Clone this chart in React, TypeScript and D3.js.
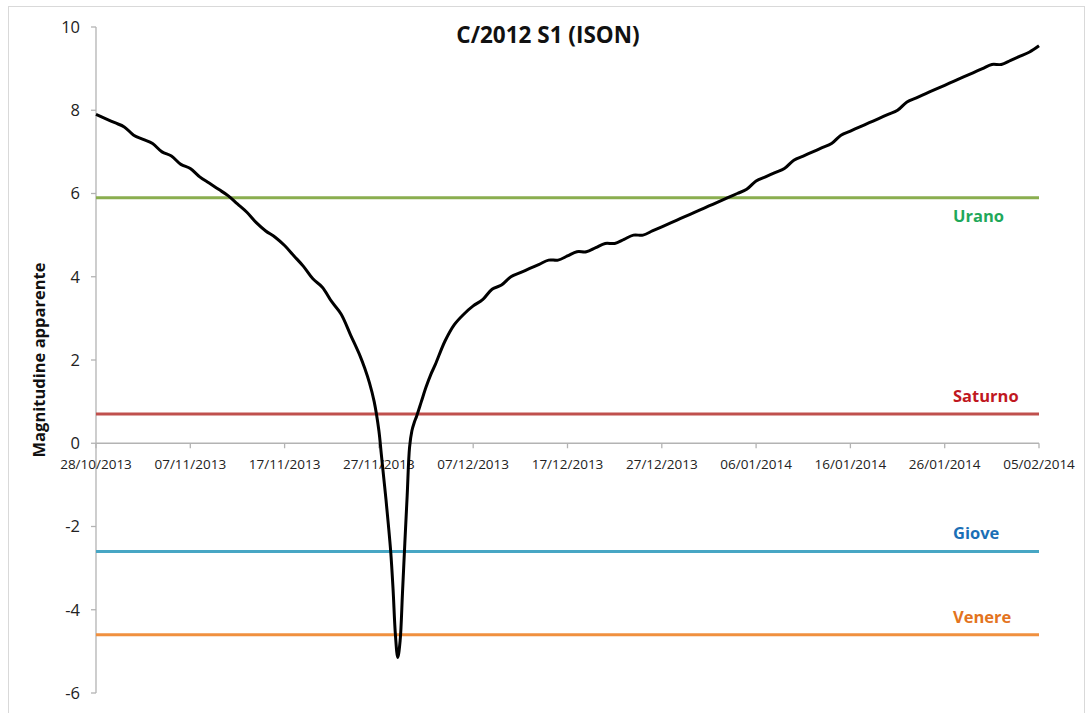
import React from "react";
import * as d3 from "d3";

// ---- Data ----
const startDate = "2013-10-28";
// offsets in days from startDate (finer sampling around perihelion)
const dayOffsets = [
  0, 1, 2, 3, 4, 5, 6, 7, 8, 9, 10, 11, 12, 13, 14, 15, 16, 17, 18, 19, 20,
  21, 22, 23, 24, 25, 26, 27, 28, 28.5, 29, 29.5, 30, 30.25, 30.5, 30.75, 31,
  31.25, 31.5, 31.75, 32, 32.25, 32.5, 32.75, 33, 33.25, 33.5, 33.75, 34, 34.5,
  35, 35.5, 36, 37, 38, 39, 40, 41, 42, 43, 44, 45, 46, 47, 48, 49, 50, 51, 52,
  53, 54, 55, 56, 57, 58, 59, 60, 61, 62, 63, 64, 65, 66, 67, 68, 69, 70, 71,
  72, 73, 74, 75, 76, 77, 78, 79, 80, 81, 82, 83, 84, 85, 86, 87, 88, 89, 90,
  91, 92, 93, 94, 95, 96, 97, 98, 99, 100,
];
const magnitudes = [
  7.9, 7.8, 7.7, 7.6, 7.4, 7.3, 7.2, 7.0, 6.9, 6.7, 6.6, 6.4, 6.25, 6.1, 5.95,
  5.75, 5.55, 5.3, 5.1, 4.95, 4.75, 4.5, 4.25, 3.95, 3.75, 3.4, 3.1, 2.6, 2.1,
  1.8, 1.45, 1.0, 0.3, -0.25, -0.8, -1.35, -1.95, -2.6, -3.5, -4.6, -5.15,
  -4.75, -3.6, -2.4, -1.25, -0.1, 0.3, 0.5, 0.65, 1.0, 1.35, 1.65, 1.9, 2.45,
  2.85, 3.1, 3.3, 3.45, 3.7, 3.8, 4.0, 4.1, 4.2, 4.3, 4.4, 4.4, 4.5, 4.6, 4.6,
  4.7, 4.8, 4.8, 4.9, 5.0, 5.0, 5.1, 5.2, 5.3, 5.4, 5.5, 5.6, 5.7, 5.8, 5.9,
  6.0, 6.1, 6.3, 6.4, 6.5, 6.6, 6.8, 6.9, 7.0, 7.1, 7.2, 7.4, 7.5, 7.6, 7.7,
  7.8, 7.9, 8.0, 8.2, 8.3, 8.4, 8.5, 8.6, 8.7, 8.8, 8.9, 9.0, 9.1, 9.1, 9.2,
  9.3, 9.4, 9.55,
];
const xTickLabels = [
  "28/10/2013", "07/11/2013", "17/11/2013", "27/11/2013", "07/12/2013",
  "17/12/2013", "27/12/2013", "06/01/2014", "16/01/2014", "26/01/2014",
  "05/02/2014",
];
const yTicks = [-6, -4, -2, 0, 2, 4, 6, 8, 10];
const planetNames = ["Urano", "Saturno", "Giove", "Venere"];
const planetMagnitudes = [5.9, 0.7, -2.6, -4.6];
const planetLineColors = ["#8aae4f", "#c0504d", "#47a6c4", "#f0903f"];
const planetTextColors = ["#1fa85a", "#c0181f", "#1a6fb6", "#e37320"];

const title = "C/2012 S1 (ISON)";
const yTitle = "Magnitudine apparente";

const W = 1088;
const H = 713;
const FONT = "'Open Sans', 'Liberation Sans', sans-serif";

export default function App() {
  const parseDay = d3.utcParse("%Y-%m-%d");
  const parseTick = d3.utcParse("%d/%m/%Y");
  const start = parseDay(startDate) as Date;
  const tickDates = xTickLabels.map((s) => parseTick(s) as Date);

  const x = d3
    .scaleUtc()
    .domain([tickDates[0], tickDates[tickDates.length - 1]])
    .range([96, 1039]);
  const y = d3.scaleLinear().domain([-6, 10]).range([693, 27]);

  const points = dayOffsets.map((off, i) => ({
    date: d3.utcMinute.offset(start, Math.round(off * 24 * 60)),
    value: magnitudes[i],
  }));

  const line = d3
    .line<{ date: Date; value: number }>()
    .x((d) => x(d.date))
    .y((d) => y(d.value))
    .curve(d3.curveCatmullRom.alpha(0.5));

  const x0 = x.range()[0];
  const x1 = x.range()[1];
  const yZero = y(0);
  const axisColor = "#b3b3b3";

  return (
    <svg
      width={W}
      height={H}
      style={{ position: "absolute", left: 0, top: 0, background: "#fff" }}
      fontFamily={FONT}
    >
      <rect x={0} y={0} width={W} height={H} fill="#fff" />
      <rect
        x={8.5}
        y={6.5}
        width={1076}
        height={720}
        fill="none"
        stroke="#d9d9d9"
        strokeWidth={1}
      />
      <text
        x={548}
        y={43}
        textAnchor="middle"
        fontWeight="bold"
        fontSize={22.5}
        fill="#111"
      >
        {title}
      </text>

      {/* Y axis */}
      <line x1={x0} x2={x0} y1={y(10)} y2={y(-6)} stroke={axisColor} strokeWidth={1.3} />
      {yTicks.map((t) => (
        <g key={t}>
          <line x1={x0 - 5} x2={x0} y1={y(t)} y2={y(t)} stroke={axisColor} strokeWidth={1.3} />
          <text
            x={80}
            y={y(t)}
            dy="0.36em"
            textAnchor="end"
            fontSize={16.5}
            fill="#222"
          >
            {t}
          </text>
        </g>
      ))}

      {/* X axis at y = 0 */}
      <line x1={x0} x2={x1} y1={yZero} y2={yZero} stroke={axisColor} strokeWidth={1.3} />
      {tickDates.map((d, i) => (
        <g key={xTickLabels[i]}>
          <line x1={x(d)} x2={x(d)} y1={yZero} y2={yZero + 5} stroke={axisColor} strokeWidth={1.3} />
          <text
            x={x(d)}
            y={yZero + 26}
            textAnchor="middle"
            fontSize={13.5}
            fill="#222"
          >
            {xTickLabels[i]}
          </text>
        </g>
      ))}

      <text
        transform={`translate(45, ${y(2.0)}) rotate(-90)`}
        textAnchor="middle"
        fontWeight="bold"
        fontSize={16.5}
        fill="#111"
      >
        {yTitle}
      </text>

      {/* Planet reference lines */}
      {planetNames.map((name, i) => (
        <line
          key={name}
          x1={x0}
          x2={x1}
          y1={y(planetMagnitudes[i])}
          y2={y(planetMagnitudes[i])}
          stroke={planetLineColors[i]}
          strokeWidth={3}
        />
      ))}

      {/* Comet curve */}
      <path d={line(points) || ""} fill="none" stroke="#000" strokeWidth={3} strokeLinejoin="round" />

      {/* Planet labels */}
      {planetNames.map((name, i) => (
        <text
          key={name + "-l"}
          x={953}
          y={y(planetMagnitudes[i]) + (i === 0 ? 24 : -12)}
          fontWeight="bold"
          fontSize={16.5}
          fill={planetTextColors[i]}
        >
          {name}
        </text>
      ))}
    </svg>
  );
}
